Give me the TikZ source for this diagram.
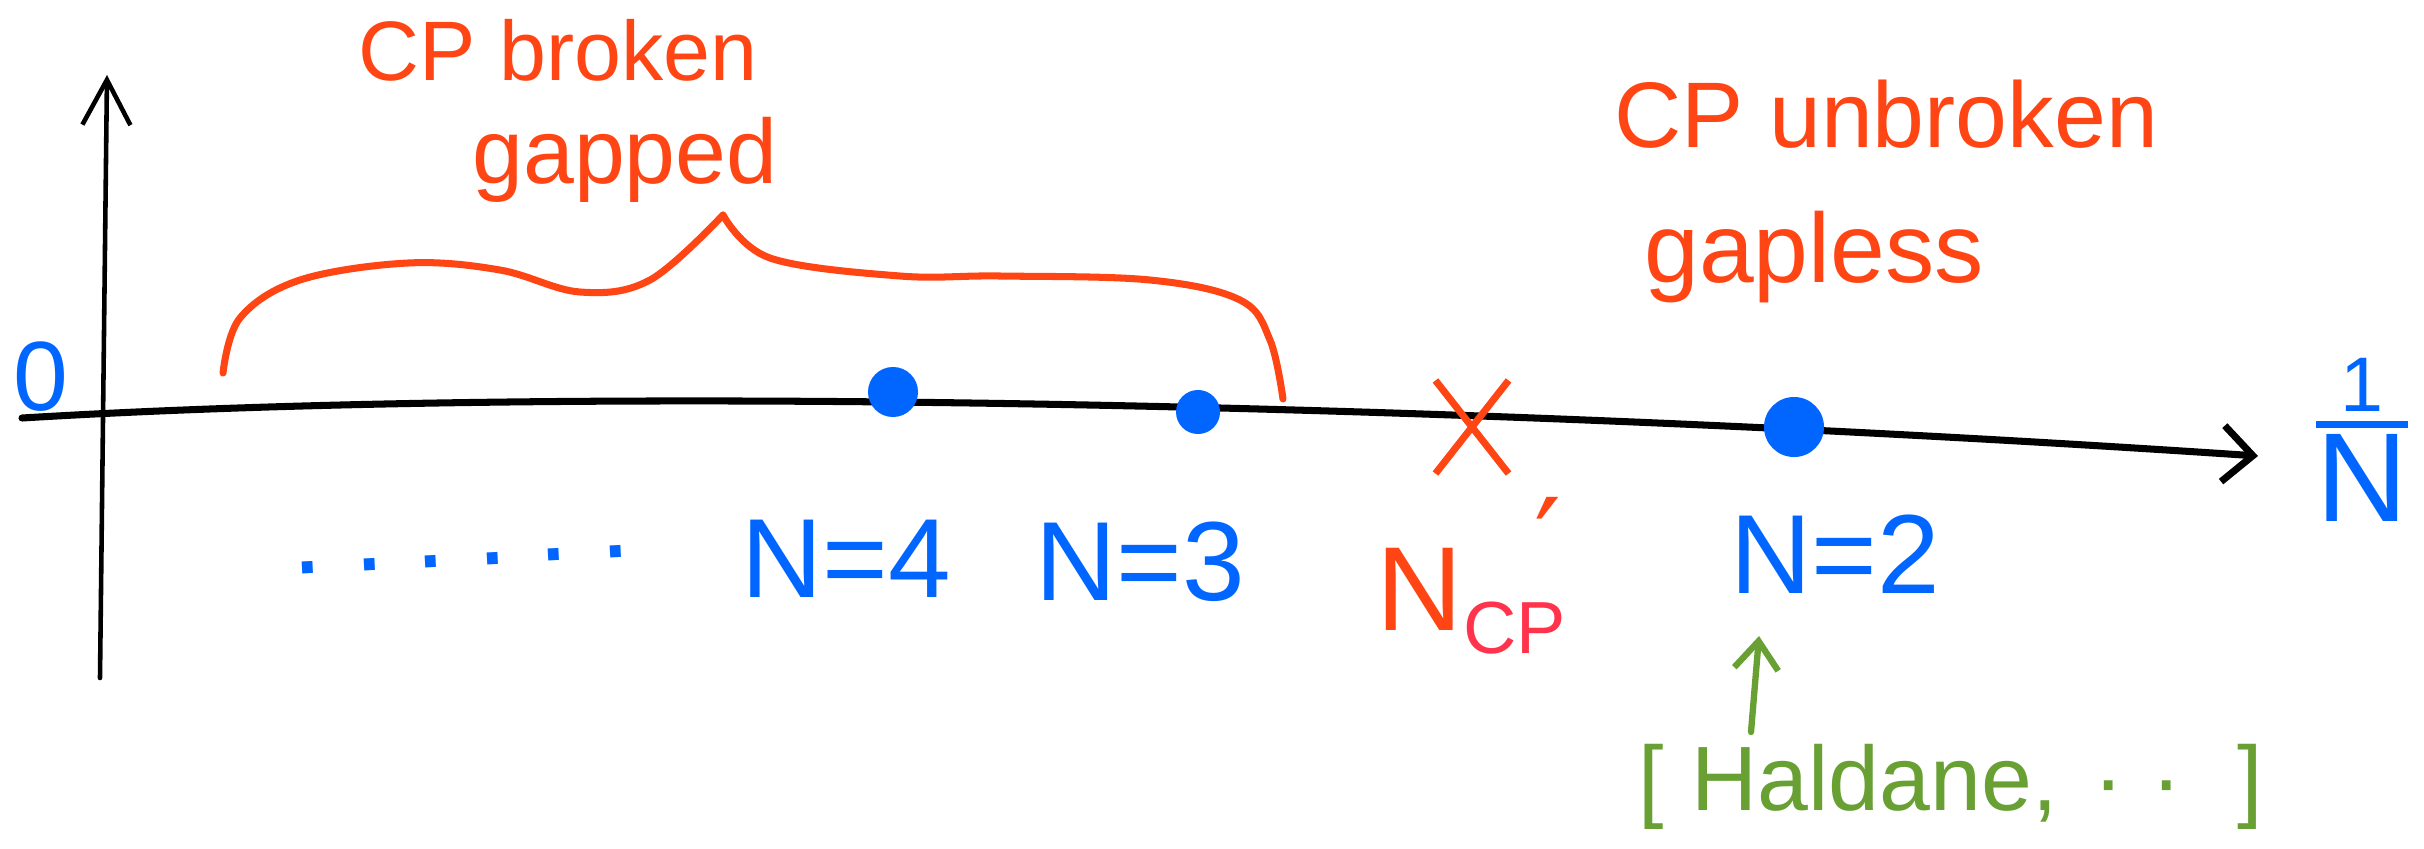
\documentclass[tikz,border=0pt]{standalone}
\usepackage{fontspec}
\usepackage{amsmath}
\setmainfont{Liberation Sans}
\newfontfamily\primefont{DejaVu Sans}
\usetikzlibrary{arrows.meta, shapes.misc, positioning}
\definecolor{penred}{RGB}{255, 69, 20}
\definecolor{penblue}{RGB}{0, 102, 255}
\definecolor{pengreen}{RGB}{104, 160, 52}
\definecolor{cppink}{RGB}{255, 52, 76}
\newcommand{\handsize}[1]{\fontsize{#1}{#1}\selectfont}

\begin{document}
\begin{tikzpicture}[
  x=0.01cm, y=-0.01cm,
  axisline/.style={black, line width=2pt, line cap=round},
  phase/.style={penred, anchor=base, inner sep=0pt},
  lbl/.style={penblue, anchor=base, inner sep=0pt, font=\handsize{32}},
  dotmark/.style={circle, fill=penblue, inner sep=0pt},
  bracecurve/.style={penred, line width=2pt, line cap=round, line join=round},
]
  \useasboundingbox (0,0) rectangle (2424,848);

  \coordinate (yfoot) at (100,678);
  \coordinate (ytip) at (107,75);
  \coordinate (xfoot) at (22,418);
  \coordinate (xtip) at (2258,456);
  \draw[axisline, line width=1.3pt, -{Straight Barb[length=4.5mm, width=4.8mm]}] (yfoot) -- (ytip);
  \draw[axisline, -{Straight Barb[length=3mm, width=5.6mm]}] (xfoot) .. controls (600,383) and (1500,405) .. (xtip);

  \node[lbl, font=\handsize{28}] (zero) at (41,410) {0};
  \node[penblue, inner sep=0pt, font=\handsize{36}] (invn) at (2362,440)
    {$\genfrac{}{}{2pt}{}{\mbox{\handsize{22}1}}{\mbox{N}}$};

  \draw[bracecurve] plot[smooth, tension=0.6] coordinates {(223,373) (240,318) (300,280) (408,263) (500,270) (580,292) (650,280) (723,215)};
  \draw[bracecurve] plot[smooth, tension=0.6] coordinates {(723,215) (770,258) (900,276) (1000,276) (1150,280) (1240,300) (1270,340) (1283,399)};

  \node[phase, font=\handsize{24}] (broken) at (558,80) {CP broken};
  \node[phase, font=\handsize{26}] (gapped) at (625,183) {gapped};
  \node[phase, font=\handsize{26.5}] (unbroken) at (1886,147) {CP unbroken};
  \node[phase, font=\handsize{28}] (gapless) at (1814,282) {gapless};

  \node[dotmark, minimum size=0.5cm] (d4) at (893,392) {};
  \node[dotmark, minimum size=0.44cm] (d3) at (1198,412) {};
  \node[dotmark, minimum size=0.6cm] (d2) at (1794,427) {};
  \node[cross out, draw=penred, line width=2pt, inner sep=0pt,
        minimum width=0.66cm, minimum height=0.86cm] (cpx) at (1472,427) {};

  \node[lbl, rotate=3] (dots) at (462,566) {.\kern0.27em.\kern0.27em.\kern0.27em.\kern0.27em.\kern0.27em.};
  \node[lbl] (n4) at (846,597) {N=4};
  \node[lbl] (n3) at (1140,600) {N=3};
  \node[phase, anchor=base west, font=\handsize{34}] (ncp) at (1376,630)
    {N\rlap{\kern0.6em\raisebox{0.38em}{\primefont ′}}\raisebox{-0.2em}{\handsize{21}\color{cppink}CP}};
  \node[lbl] (n2) at (1835,593) {N=2};

  \node[anchor=base west, inner sep=0pt, text=pengreen, font=\handsize{26}] (haldane) at (1638,810)
    {[\kern0.3em Haldane,\kern0.4em·\kern0.3em·\kern0.6em]};
  \coordinate (haltail) at (1751,732);
  \coordinate (halhead) at (1759,636);
  \draw[pengreen, line width=1.8pt, line cap=round, -{Straight Barb[length=2.8mm, width=4.4mm]}] (haltail) -- (halhead);
\end{tikzpicture}
\end{document}
